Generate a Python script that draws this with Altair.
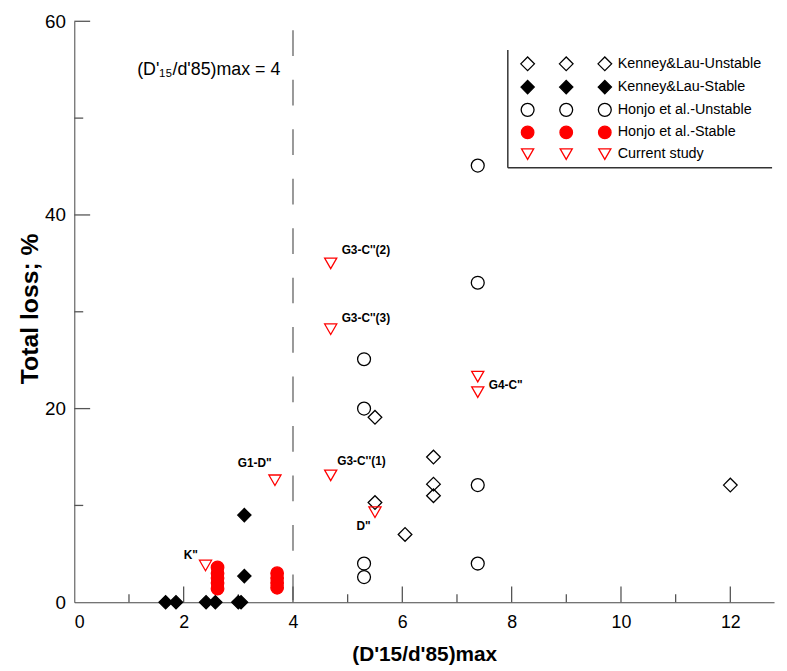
import altair as alt
import pandas as pd

FONT = "Liberation Sans"

cats = ["Kenney&Lau-Unstable", "Kenney&Lau-Stable", "Honjo et al.-Unstable",
        "Honjo et al.-Stable", "Current study"]

kl_unstable_x = [5.5, 6.57, 6.57, 6.57, 5.5, 6.05, 12.0]
kl_unstable_y = [19.1, 15.0, 12.2, 11.0, 10.3, 7.0, 12.1]
kl_stable_x = [3.11, 3.11, 1.67, 1.86, 2.41, 2.58, 3.0, 3.05]
kl_stable_y = [9.0, 2.7, 0, 0, 0, 0, 0, 0]
honjo_unstable_x = [7.38, 7.38, 5.3, 5.3, 7.38, 5.3, 5.3, 7.38]
honjo_unstable_y = [45.1, 33.0, 25.1, 20.0, 12.1, 4.0, 2.6, 4.0]
honjo_stable_x = [2.62, 2.62, 2.62, 2.62, 2.62, 3.71, 3.71, 3.71, 3.71]
honjo_stable_y = [3.6, 3.0, 2.5, 2.0, 1.4, 3.0, 2.5, 2.0, 1.5]
current_x = [4.69, 4.69, 7.38, 7.38, 3.67, 4.69, 5.5, 2.4]
current_y = [35.0, 28.2, 23.3, 21.7, 12.6, 13.1, 9.3, 3.8]

label_text = ["G3-C''(2)", "G3-C''(3)", 'G4-C"', 'G1-D"', "G3-C''(1)", 'D"', 'K"']
label_x = [4.89, 4.89, 7.58, 2.99, 4.81, 5.16, 2.0]
label_y = [36.4, 29.4, 22.4, 14.4, 14.6, 7.9, 4.9]

note_text = ["(D'\u2081\u2085/d'85)max = 4"]
note_x = [1.15]
note_y = [55.0]

limit_x = [4]
limit_top = [60]
limit_bottom = [0]

x_major = [2, 4, 6, 8, 10, 12]
x_minor = [1, 3, 5, 7, 9, 11]
y_major = [20, 40, 60]
y_minor = [10, 30, 50]
x_labels = [0, 2, 4, 6, 8, 10, 12]
y_labels = [0, 20, 40, 60]

W, H = 707, 587

rows = []
for c, xs, ys in [(cats[0], kl_unstable_x, kl_unstable_y),
                  (cats[1], kl_stable_x, kl_stable_y),
                  (cats[2], honjo_unstable_x, honjo_unstable_y),
                  (cats[3], honjo_stable_x, honjo_stable_y),
                  (cats[4], current_x, current_y)]:
    for a, b in zip(xs, ys):
        rows.append({"cat": c, "x": a, "y": b})
pts = pd.DataFrame(rows)

xscale = alt.Scale(domain=[0, 12.8], nice=False)
yscale = alt.Scale(domain=[0, 60], nice=False)

x_enc = alt.X("x:Q", scale=xscale, axis=alt.Axis(
    values=x_labels, ticks=False, grid=False, labelFontSize=18, labelFont=FONT,
    labelPadding=12, labelColor="black", domainColor="#444",
    title="(D'15/d'85)max", titleFont=FONT, titleFontSize=21, titleFontWeight="bold",
    titleColor="black", titleY=42, titleBaseline="top"))
y_enc = alt.Y("y:Q", scale=yscale, axis=alt.Axis(
    values=y_labels, ticks=False, grid=False, labelFontSize=19, labelFont=FONT,
    labelPadding=9, labelColor="black", domainColor="#444",
    title="Total loss; %", titleFont=FONT, titleFontSize=25, titleFontWeight="bold",
    titleColor="black", titleX=-37, titleY=290, titleBaseline="alphabetic",
    titleAlign="center"))

shape_range = ["diamond", "diamond", "circle", "circle", "triangle-down"]
stroke_range = ["black", "black", "black", "#ff0000", "#ff0000"]
fill_range = ["transparent", "black", "transparent", "#ff0000", "transparent"]
size_range = [190, 150, 105, 110, 140]


def legend_for(xpos, show_labels):
    kw = dict(orient="none", legendX=xpos, legendY=35, title=None,
              symbolStrokeWidth=1.3, labelFont=FONT, labelFontSize=14.5,
              labelColor="black", rowPadding=4, padding=0, labelOffset=5)
    if not show_labels:
        kw["labelExpr"] = "''"
    return alt.Legend(**kw)


def point_layer(xpos, show_labels, empty):
    lg = legend_for(xpos, show_labels)
    base = alt.Chart(pts)
    if empty:
        base = base.transform_filter("false")
    return base.mark_point(opacity=1, strokeWidth=1.3).encode(
        x=x_enc, y=y_enc,
        shape=alt.Shape("cat:N", scale=alt.Scale(domain=cats, range=shape_range), legend=lg),
        stroke=alt.Stroke("cat:N", scale=alt.Scale(domain=cats, range=stroke_range), legend=lg),
        fill=alt.Fill("cat:N", scale=alt.Scale(domain=cats, range=fill_range), legend=lg),
        size=alt.Size("cat:N", scale=alt.Scale(domain=cats, range=size_range), legend=lg),
    )


layerA = point_layer(450, False, False)
layerB = point_layer(489, False, True)
layerC = point_layer(528, True, True)

# dashed limit line
limit = alt.Chart(pd.DataFrame({"x": limit_x, "y": limit_top, "y2": limit_bottom})).mark_rule(
    color="#999999", strokeWidth=2, strokeDash=[26, 24], strokeDashOffset=41
).encode(x=alt.X("x:Q", scale=xscale), y=alt.Y("y:Q", scale=yscale), y2="y2:Q")


# inward ticks
def xticks(vals, length):
    return alt.Chart(pd.DataFrame({"x": vals})).mark_rule(color="#555", strokeWidth=1.3).encode(
        x=alt.X("x:Q", scale=xscale), y=alt.value(H), y2=alt.value(H - length))


def yticks(vals, length):
    return alt.Chart(pd.DataFrame({"y": vals})).mark_rule(color="#555", strokeWidth=1.3).encode(
        y=alt.Y("y:Q", scale=yscale), x=alt.value(0), x2=alt.value(length))


labels = alt.Chart(pd.DataFrame({"t": label_text, "x": label_x, "y": label_y})).mark_text(
    align="left", baseline="middle", font=FONT, fontSize=12, fontWeight="bold", color="black"
).encode(x=alt.X("x:Q", scale=xscale), y=alt.Y("y:Q", scale=yscale), text="t:N")

note = alt.Chart(pd.DataFrame({"t": note_text, "x": note_x, "y": note_y})).mark_text(
    align="left", baseline="middle", font=FONT, fontSize=18, color="black"
).encode(x=alt.X("x:Q", scale=xscale), y=alt.Y("y:Q", scale=yscale), text="t:N")

# legend frame (left and bottom edges)
frame_left = alt.Chart(pd.DataFrame({"a": [0]})).mark_rule(color="#333", strokeWidth=1.5).encode(
    x=alt.value(438), y=alt.value(29), y2=alt.value(148))
frame_bottom = alt.Chart(pd.DataFrame({"a": [0]})).mark_rule(color="#333", strokeWidth=1.5).encode(
    x=alt.value(438), x2=alt.value(705), y=alt.value(148))

chart = alt.layer(
    limit, xticks(x_major, 16), xticks(x_minor, 8), yticks(y_major, 16), yticks(y_minor, 9),
    labels, note, frame_left, frame_bottom, layerA, layerB, layerC
).resolve_scale(shape="independent", fill="independent", stroke="independent",
                size="independent"
).resolve_legend(shape="independent", fill="independent", stroke="independent",
                 size="independent"
).properties(
    width=W, height=H,
    autosize=alt.AutoSizeParams(type="none"),
    padding={"left": 67, "top": 10, "right": 5, "bottom": 64},
    background="white",
).configure_view(stroke=None)

chart.save("out.html", embed_options={"renderer": "svg", "actions": False})
